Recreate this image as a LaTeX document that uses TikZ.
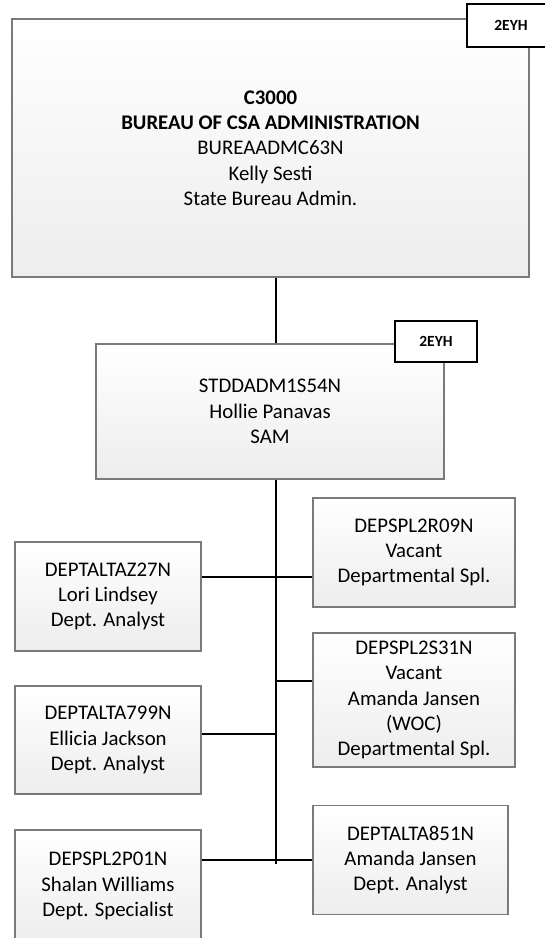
\documentclass[tikz,border=0pt]{standalone}
\usepackage{fontspec}
\setmainfont{Carlito}
\definecolor{orgEdge}{HTML}{7A7A7A}
\definecolor{orgLow}{HTML}{EDEDED}
\tikzset{
  org box/.style={rectangle, draw=orgEdge, line width=1.1pt, top color=white, bottom color=orgLow, align=center, inner sep=0pt, font=\fontsize{20.8}{25.3}\selectfont},
  org tag/.style={rectangle, draw=black, fill=white, line width=1.8pt, inner sep=0pt, font=\fontsize{15.5}{18}\selectfont\bfseries},
  org link/.style={draw=black, line width=1.8pt},
}
\begin{document}
\begin{tikzpicture}[x=1pt,y=-1pt]
  \clip (0,0) rectangle (545,938);
  % top of the chart
  \node[org box, minimum width=517pt, minimum height=258pt] (bureau) at (270.5,148)
    {\textbf{C3000}\\\textbf{BUREAU OF CSA ADMINISTRATION}\\BUREAADMC63N\\Kelly Sesti\\State Bureau Admin.};
  \node[org tag, minimum width=88pt, minimum height=43pt] (bureau tag) at (511,25.5) {2EYH};
  \node[org box, minimum width=348pt, minimum height=135pt] (sam) at (270,411.5)
    {STDDADM1S54N\\Hollie Panavas\\SAM};
  \node[org tag, minimum width=82pt, minimum height=41pt] (sam tag) at (436,341.5) {2EYH};
  % left column
  \node[org box, minimum width=186pt, minimum height=109pt] (alta27) at (108,596.5)
    {DEPTALTAZ27N\\Lori Lindsey\\Dept. Analyst};
  \node[org box, minimum width=186pt, minimum height=108pt] (alta799) at (108,740)
    {DEPTALTA799N\\Ellicia Jackson\\Dept. Analyst};
  \node[org box, minimum width=186pt, minimum height=112pt] (spl01) at (108,886)
    {DEPSPL2P01N\\Shalan Williams\\Dept. Specialist};
  % right column
  \node[org box, minimum width=202pt, minimum height=109pt] (spl09) at (414,552.5)
    {DEPSPL2R09N\\Vacant\\Departmental Spl.};
  \node[org box, minimum width=202pt, minimum height=134pt] (spl31) at (414,700)
    {DEPSPL2S31N\\Vacant\\Amanda Jansen\\(WOC)\\Departmental Spl.};
  \node[org box, minimum width=195pt, minimum height=109pt] (alta851) at (410.5,860)
    {DEPTALTA851N\\Amanda Jansen\\Dept. Analyst};
  % trunk and branches
  \coordinate (trunk) at (276,0);
  \coordinate (trunk end) at (276,864);
  \coordinate (b1) at (276,577);
  \coordinate (b2) at (276,681);
  \coordinate (b3) at (276,734);
  \coordinate (b4) at (276,860);
  \draw[org link] (trunk |- bureau.south) -- (trunk |- sam.north);
  \draw[org link] (trunk |- sam.south) -- (trunk end);
  \draw[org link] (b1 -| alta27.east) -- (b1 -| spl09.west);
  \draw[org link] (b2) -- (b2 -| spl31.west);
  \draw[org link] (b3 -| alta799.east) -- (b3);
  \draw[org link] (b4 -| spl01.east) -- (b4 -| alta851.west);
\end{tikzpicture}
\end{document}
